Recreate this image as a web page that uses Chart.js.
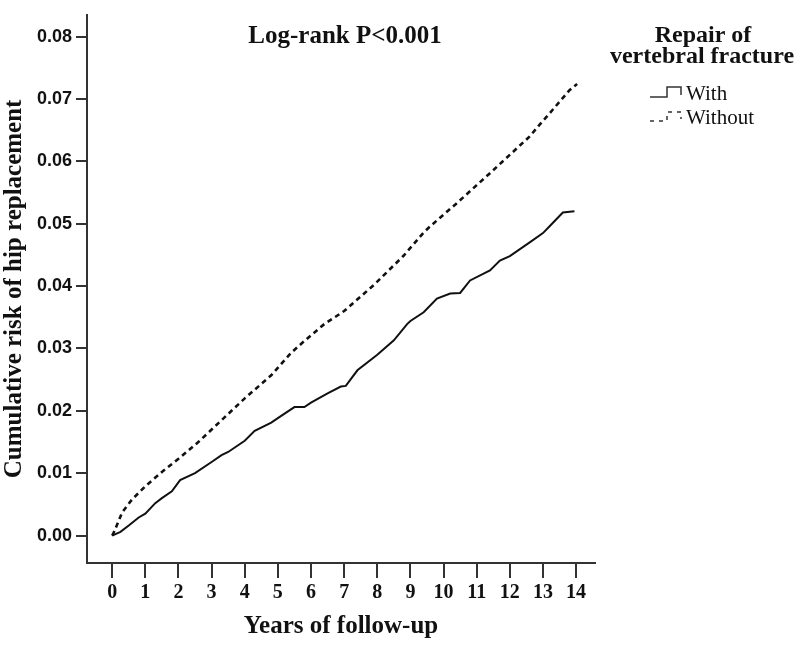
<!DOCTYPE html>
<html>
<head>
<meta charset="utf-8">
<script src="https://cdn.jsdelivr.net/npm/chart.js@4.4.1/dist/chart.umd.min.js"></script>
<style>
  html, body { margin: 0; padding: 0; background: #fff; }
  #wrap { width: 800px; height: 645px; }
</style>
</head>
<body>
<div id="wrap"><canvas id="km" width="800" height="645"></canvas></div>
<script>
// Kaplan-Meier style cumulative risk
const withT = [0, 0.25, 0.5, 0.8, 1.0, 1.3, 1.5, 1.8, 2.05, 2.5, 3.0, 3.3, 3.5, 4.0, 4.3, 4.8, 5.1, 5.5, 5.8, 6.0, 6.5, 6.9, 7.05, 7.4, 8.0, 8.5, 8.9, 9.0, 9.4, 9.8, 10.2, 10.5, 10.8, 11.4, 11.7, 12.0, 12.6, 13.0, 13.2, 13.6, 13.95];
const withV = [0, 0.0006, 0.0016, 0.0029, 0.0035, 0.0052, 0.0060, 0.0071, 0.0089, 0.0100, 0.0118, 0.0129, 0.0134, 0.0152, 0.0168, 0.0181, 0.0192, 0.0206, 0.0206, 0.0213, 0.0228, 0.0239, 0.0240, 0.0265, 0.0290, 0.0313, 0.0339, 0.0344, 0.0358, 0.0380, 0.0388, 0.0389, 0.0409, 0.0425, 0.0441, 0.0448, 0.0470, 0.0485, 0.0496, 0.0518, 0.0520];

const withoutT = [0, 0.05, 0.3, 0.6, 1.0, 1.5, 2.0, 2.6, 3.3, 4.0, 4.8, 5.4, 5.8, 6.4, 7.0, 7.9, 8.8, 9.4, 9.6, 10.4, 11.4, 12.6, 12.9, 13.2, 13.8, 14.03];
const withoutV = [0, 0.0005, 0.0037, 0.0058, 0.0079, 0.0102, 0.0123, 0.0150, 0.0185, 0.0220, 0.0257, 0.0293, 0.0312, 0.0339, 0.0360, 0.0402, 0.0449, 0.0486, 0.0496, 0.0533, 0.0581, 0.0640, 0.0659, 0.0677, 0.0714, 0.0724];

const xTicks = [0, 1, 2, 3, 4, 5, 6, 7, 8, 9, 10, 11, 12, 13, 14];
const yTicks = [0, 0.01, 0.02, 0.03, 0.04, 0.05, 0.06, 0.07, 0.08];

const seriesNames = ["With", "Without"];
const legendTitle = ["Repair of", "vertebral fracture"];
const plotTitle = "Log-rank P<0.001";

const SERIF = '"Liberation Serif", "Times New Roman", serif';
const SANS = '"Liberation Sans", Arial, sans-serif';

const toPts = (ts, vs) => ts.map((t, i) => ({ x: t, y: vs[i] }));

// title + legend drawn by hand (SPSS style block on the right)
const overlay = {
  id: "overlay",
  afterDraw(chart) {
    const ctx = chart.ctx;
    ctx.save();
    ctx.fillStyle = "#111";
    ctx.textAlign = "center";
    ctx.textBaseline = "alphabetic";
    ctx.font = "bold 25px " + SERIF;
    ctx.fillText(plotTitle, 345, 43);
    ctx.font = "bold 24px " + SERIF;
    ctx.fillText(legendTitle[0], 703, 42);
    ctx.fillText(legendTitle[1], 702, 63);

    ctx.textAlign = "left";
    ctx.font = "21px " + SERIF;
    ctx.fillText(seriesNames[0], 686, 100);
    ctx.fillText(seriesNames[1], 686, 124);

    ctx.strokeStyle = "#333";
    ctx.lineWidth = 1.5;
    ctx.beginPath();
    ctx.moveTo(650, 97); ctx.lineTo(667, 97); ctx.lineTo(667, 87);
    ctx.lineTo(681, 87); ctx.lineTo(681, 95);
    ctx.stroke();
    ctx.setLineDash([4, 5]);
    ctx.beginPath();
    ctx.moveTo(650, 121); ctx.lineTo(667, 121); ctx.lineTo(667, 112);
    ctx.lineTo(681, 112); ctx.lineTo(681, 119);
    ctx.stroke();
    ctx.restore();
  }
};

new Chart(document.getElementById("km").getContext("2d"), {
  type: "line",
  data: {
    datasets: [
      {
        label: seriesNames[0], data: toPts(withT, withV),
        borderColor: "#111", borderWidth: 2, pointRadius: 0, tension: 0, fill: false,
      },
      {
        label: seriesNames[1], data: toPts(withoutT, withoutV),
        borderColor: "#111", borderWidth: 2.6, borderDash: [5, 4], pointRadius: 0, tension: 0, fill: false,
      },
    ],
  },
  options: {
    responsive: false, animation: false,
    layout: { padding: { top: 5, right: 205, left: 0, bottom: 0 } },
    plugins: { legend: { display: false }, tooltip: { enabled: false } },
    scales: {
      x: {
        type: "linear", min: -0.76, max: 14.57,
        afterBuildTicks: s => { s.ticks = xTicks.map(v => ({ value: v })); },
        afterFit: s => { s.height = 82; },
        border: { display: true, color: "#333", width: 2 },
        grid: { drawOnChartArea: false, drawTicks: true, tickLength: 15, color: "#333", lineWidth: 2 },
        ticks: { color: "#111", padding: 3, maxRotation: 0, autoSkip: false, font: { family: SERIF, size: 20, weight: "bold" } },
        title: { display: true, text: "Years of follow-up", color: "#111", padding: { top: 0, bottom: 3 }, font: { family: SERIF, size: 25, weight: "bold" } },
      },
      y: {
        min: -0.0044, max: 0.0835,
        afterBuildTicks: s => { s.ticks = yTicks.map(v => ({ value: v })); },
        afterFit: s => { s.width = 87; },
        border: { display: true, color: "#333", width: 2 },
        grid: { drawOnChartArea: false, drawTicks: true, tickLength: 11, color: "#333", lineWidth: 2 },
        ticks: { color: "#111", padding: 4, callback: v => v.toFixed(2), font: { family: SANS, size: 18, weight: "bold" } },
        title: { display: true, text: "Cumulative risk of hip replacement", color: "#111", padding: { top: 0, bottom: 0 }, font: { family: SERIF, size: 25, weight: "bold" } },
      },
    },
  },
  plugins: [overlay],
});
</script>
</body>
</html>
